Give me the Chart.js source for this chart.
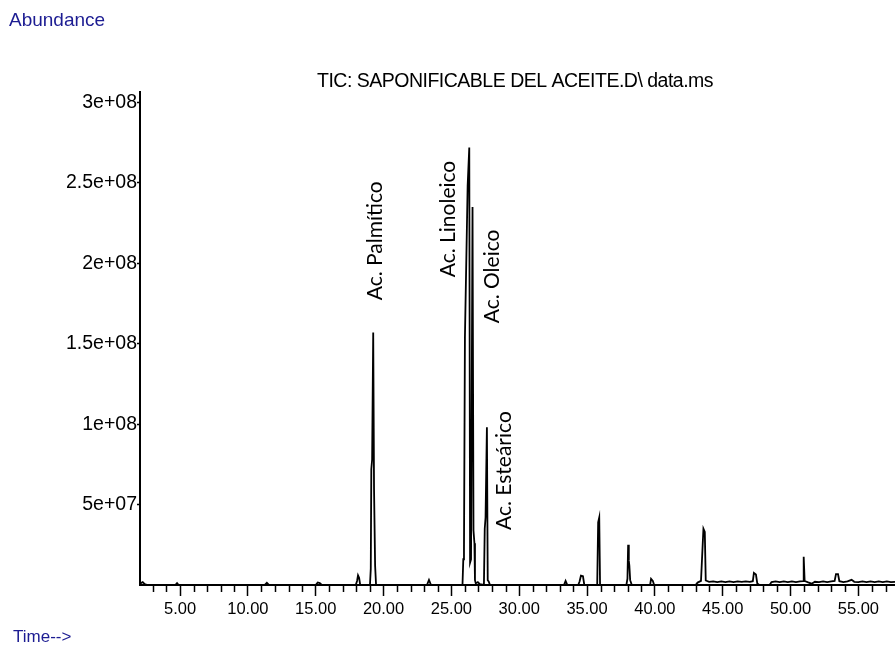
<!DOCTYPE html>
<html><head><meta charset="utf-8">
<script src="https://cdn.jsdelivr.net/npm/chart.js@4"></script>
<style>html,body{margin:0;padding:0;background:#fff;} canvas{display:block;}</style>
</head><body>
<canvas id="c" width="895" height="646"></canvas>
<script>
// Retention time (min) and abundance
const retentionTime = [
  2.05, 2.1, 2.25, 2.4, 2.6,
  4.65, 4.78, 4.9,
  11.25, 11.4, 11.55,
  15.0, 15.15, 15.3, 15.45,
  17.95, 18.05, 18.12, 18.2, 18.28,
  19.0, 19.06, 19.1, 19.16, 19.24, 19.3, 19.38, 19.45,
  23.2, 23.35, 23.5,
  25.82, 25.88, 25.93, 26.0, 26.2, 26.32, 26.38, 26.45, 26.56, 26.63, 26.7, 26.74, 26.8, 26.95, 27.1,
  27.4, 27.46, 27.52, 27.62, 27.68, 27.75, 27.85,
  33.3, 33.42, 33.55,
  34.35, 34.45, 34.55, 34.7, 34.8,
  35.75, 35.82, 35.9, 35.96,
  37.9, 37.98, 38.03, 38.08, 38.12, 38.18, 38.3,
  39.65, 39.72, 39.85, 39.95,
  43.0, 43.15, 43.4, 43.58, 43.68, 43.75, 44.0, 44.3, 44.6, 44.9, 45.2, 45.5, 45.8, 46.1, 46.4, 46.7, 47.0,
  47.22, 47.3, 47.45, 47.55, 47.7,
  48.45, 48.6, 48.9, 49.2, 49.5, 49.8, 50.1, 50.4, 50.7, 50.92, 50.97, 51.04, 51.3, 51.55, 51.8, 52.1, 52.4, 52.7, 53.0,
  53.25, 53.35, 53.5, 53.6, 53.9, 54.2, 54.5, 54.7, 55.0, 55.3, 55.6, 55.9, 56.2, 56.5, 56.8, 57.1, 57.4, 57.7
];
const abundance = [
  0, 1.2e6, 1.8e6, 0.6e6, 0,
  0, 1.2e6, 0,
  0, 1.3e6, 0,
  0, 1.6e6, 1.2e6, 0,
  0, 2.5e6, 6.0e6, 4.5e6, 0,
  0, 1.0e7, 7.2e7, 7.8e7, 1.57e8, 6.0e7, 1.2e7, 0,
  0, 3.2e6, 0,
  0, 1.6e7, 2.2e7, 1.54e8, 2.48e8, 2.72e8, 1.4e7, 1.6e7, 2.35e8, 3.4e7, 2.6e7, 3.0e6, 1.0e6, 1.8e6, 0.5e6,
  0, 3.5e7, 4.2e7, 9.8e7, 3.0e6, 2.2e6, 0,
  0, 2.6e6, 0,
  0, 2.2e6, 5.8e6, 5.4e6, 0,
  0, 3.9e7, 4.2e7, 0,
  0, 4.0e6, 2.5e7, 1.5e7, 1.2e7, 3.0e6, 0,
  0, 3.8e6, 2.5e6, 0,
  0, 1.5e6, 2.6e6, 3.5e7, 3.3e7, 2.8e6, 1.9e6, 2.2e6, 1.8e6, 2.2e6, 1.8e6, 2.2e6, 1.8e6, 2.2e6, 1.9e6, 2.2e6, 2.0e6,
  2.4e6, 7.5e6, 6.5e6, 1.0e6, 0,
  0, 1.8e6, 2.2e6, 1.8e6, 2.2e6, 1.8e6, 2.2e6, 1.8e6, 2.2e6, 2.4e6, 1.76e7, 2.5e6, 1.6e6, 0.8e6, 2.0e6, 1.8e6, 2.2e6, 1.8e6, 2.2e6,
  2.5e6, 6.8e6, 6.8e6, 2.4e6, 1.8e6, 2.2e6, 3.2e6, 2.0e6, 1.8e6, 2.2e6, 1.8e6, 2.2e6, 1.8e6, 2.2e6, 1.8e6, 2.2e6, 1.8e6, 2.0e6
];
const xTickValues = [5, 10, 15, 20, 25, 30, 35, 40, 45, 50, 55];
const xTickLabels = ['5.00', '10.00', '15.00', '20.00', '25.00', '30.00', '35.00', '40.00', '45.00', '50.00', '55.00'];
const yTickValues = [5e7, 1e8, 1.5e8, 2e8, 2.5e8, 3e8];
const yTickLabels = ['5e+07', '1e+08', '1.5e+08', '2e+08', '2.5e+08', '3e+08'];
const peakNames = ['Ac. Palmítico', 'Ac. Linoleico', 'Ac. Oleico', 'Ac. Esteárico'];
const peakLabelTime = [19.37, 24.76, 28.0, 28.88];
const peakLabelAbundance = [1.77e8, 1.913e8, 1.627e8, 0.342e8];
const chartTitle = 'TIC: SAPONIFICABLE DEL ACEITE.D\\ data.ms';

const decor = {
  id: 'decor',
  afterDraw(chart) {
    const c = chart.ctx, xs = chart.scales.x, ys = chart.scales.y, ca = chart.chartArea;
    c.save();
    // minor x ticks every minute
    c.strokeStyle = '#000'; c.lineWidth = 1.5;
    for (let t = Math.ceil(xs.min); t <= xs.max; t++) {
      if (t % 5 === 0) continue;
      const px = Math.round(xs.getPixelForValue(t)) + 0.5;
      c.beginPath(); c.moveTo(px, ca.bottom); c.lineTo(px, ca.bottom + 7); c.stroke();
    }
    // peak annotations
    c.fillStyle = '#000';
    c.font = '21px Lato';
    c.textAlign = 'left'; c.textBaseline = 'middle';
    peakNames.forEach((name, i) => {
      const px = xs.getPixelForValue(peakLabelTime[i]);
      const py = ys.getPixelForValue(peakLabelAbundance[i]);
      c.save(); c.translate(px, py); c.rotate(-Math.PI / 2); c.fillText(name, 0, 0); c.restore();
    });
    // title
    c.textBaseline = 'alphabetic';
    c.font = '19.5px "Liberation Sans"';
    try { c.letterSpacing = '-0.5px'; } catch (e) {}
    c.fillText(chartTitle, 317, 87);
    try { c.letterSpacing = '0px'; } catch (e) {}
    // axis captions
    c.fillStyle = '#1c1c92';
    c.font = '19px "Liberation Sans"';
    c.fillText('Abundance', 9, 26);
    c.font = '17px "Liberation Sans"';
    c.fillText('Time-->', 13, 642);
    c.restore();
  }
};

new Chart(document.getElementById('c'), {
  type: 'line',
  data: {
    datasets: [{
      data: retentionTime.map((t, i) => ({ x: t, y: abundance[i] })),
      borderColor: '#000', borderWidth: 1.8, pointRadius: 0, tension: 0, fill: false
    }]
  },
  options: {
    responsive: false, animation: false, devicePixelRatio: 1,
    layout: { padding: { top: 92, left: 0, right: 0, bottom: 0 } },
    plugins: { legend: { display: false }, tooltip: { enabled: false }, title: { display: false } },
    scales: {
      x: {
        type: 'linear', min: 2.05, max: 57.7,
        afterBuildTicks: s => { s.ticks = xTickValues.map(v => ({ value: v })); },
        afterFit: s => { s.height = 61; },
        ticks: { autoSkip: false, maxRotation: 0, padding: 4, color: '#000',
          font: { family: 'Liberation Sans', size: 16.5 }, callback: (v, i) => xTickLabels[i] },
        grid: { display: true, drawOnChartArea: false, drawTicks: true, tickLength: 11, tickColor: '#000', tickWidth: 1.5 },
        border: { display: true, color: '#000', width: 2 }
      },
      y: {
        type: 'linear', min: 0, max: 3.065e8,
        afterBuildTicks: s => { s.ticks = yTickValues.map(v => ({ value: v })); },
        afterFit: s => { s.width = 140; },
        ticks: { padding: 0, color: '#000', font: { family: 'Liberation Sans', size: 19.5 }, callback: (v, i) => yTickLabels[i] },
        grid: { display: true, drawOnChartArea: false, drawTicks: true, tickLength: 3, tickColor: '#000', tickWidth: 1.5 },
        border: { display: true, color: '#000', width: 2 }
      }
    }
  },
  plugins: [decor]
});
</script>
</body></html>
